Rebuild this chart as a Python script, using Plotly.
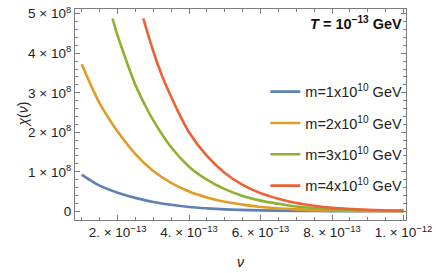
import plotly.graph_objects as go

# nu in units of 1e-13 GeV, chi in units of 1e8
nu_m1 = [1.0, 1.25, 1.5, 2.0, 2.5, 3.0, 3.5, 4.0, 4.5, 5.0, 6.0, 7.0, 8.0, 9.0, 10.0]
chi_m1 = [0.93, 0.78, 0.65, 0.47, 0.34, 0.235, 0.165, 0.11, 0.075, 0.05, 0.024, 0.011, 0.005, 0.002, 0.001]

nu_m2 = [1.0, 1.25, 1.5, 1.75, 2.0, 2.5, 3.0, 3.5, 4.0, 4.5, 5.0, 5.5, 6.0, 7.0, 8.0, 9.0, 10.0]
chi_m2 = [3.72, 3.2, 2.73, 2.36, 2.02, 1.45, 1.02, 0.72, 0.50, 0.35, 0.24, 0.17, 0.11, 0.05, 0.02, 0.01, 0.005]

nu_m3 = [1.86, 2.0, 2.25, 2.5, 2.75, 3.0, 3.5, 4.0, 4.5, 5.0, 5.5, 6.0, 6.5, 7.0, 8.0, 9.0, 10.0]
chi_m3 = [4.88, 4.45, 3.8, 3.2, 2.72, 2.3, 1.62, 1.13, 0.80, 0.56, 0.39, 0.27, 0.19, 0.12, 0.055, 0.025, 0.012]

nu_m4 = [2.72, 3.0, 3.25, 3.5, 3.75, 4.0, 4.5, 5.0, 5.5, 6.0, 6.5, 7.0, 7.5, 8.0, 9.0, 10.0]
chi_m4 = [4.88, 4.05, 3.42, 2.9, 2.42, 2.0, 1.4, 0.97, 0.67, 0.46, 0.32, 0.21, 0.14, 0.09, 0.04, 0.018]

names = ["m=1x10<sup>10</sup> GeV", "m=2x10<sup>10</sup> GeV",
         "m=3x10<sup>10</sup> GeV", "m=4x10<sup>10</sup> GeV"]
colors = ["#5E81B5", "#E19C24", "#8FB032", "#EB6235"]

x_tickvals = [2e-13, 4e-13, 6e-13, 8e-13, 1e-12]
x_ticktext = ["2. × 10<sup>−13</sup>", "4. × 10<sup>−13</sup>", "6. × 10<sup>−13</sup>",
              "8. × 10<sup>−13</sup>", "1. × 10<sup>−12</sup>"]
y_tickvals = [0, 1e8, 2e8, 3e8, 4e8, 5e8]
y_ticktext = ["0", "1 × 10<sup>8</sup>", "2 × 10<sup>8</sup>", "3 × 10<sup>8</sup>",
              "4 × 10<sup>8</sup>", "5 × 10<sup>8</sup>"]

series = [(nu_m1, chi_m1), (nu_m2, chi_m2), (nu_m3, chi_m3), (nu_m4, chi_m4)]

fig = go.Figure()
for i, (nu, chi) in enumerate(series):
    fig.add_trace(go.Scatter(
        x=[v * 1e-13 for v in nu], y=[v * 1e8 for v in chi],
        mode="lines", name=names[i], legendgroup=f"g{i}",
        line=dict(color=colors[i], width=2.6, shape="spline"),
    ))

font_family = "Liberation Sans, Arial, sans-serif"
frame = "#7c7c7c"

fig.update_layout(
    width=436, height=273,
    margin=dict(l=75, r=29, t=4, b=53),
    paper_bgcolor="white", plot_bgcolor="white",
    font=dict(family=font_family, size=13.5, color="#222222"),
    showlegend=True,
    legend=dict(x=0.575, y=0.684, xanchor="left", yanchor="top",
                bgcolor="rgba(0,0,0,0)", tracegroupgap=9.5,
                font=dict(size=14.5, family=font_family, color="#222222")),
)
fig.update_xaxes(
    range=[0.81e-13, 10.07e-13], showgrid=False, zeroline=False,
    showline=True, linecolor=frame, linewidth=1.2, mirror="allticks",
    ticks="inside", ticklen=5, tickcolor=frame, tickwidth=1,
    tickmode="array", tickvals=x_tickvals, ticktext=x_ticktext,
    ticklabeloverflow="allow",
    minor=dict(ticks="inside", ticklen=3, tickcolor=frame, dtick=0.5e-13, tick0=0),
)
fig.update_yaxes(
    range=[-0.22e8, 5.12e8], showgrid=False, zeroline=False,
    showline=True, linecolor=frame, linewidth=1.2, mirror="allticks",
    ticks="inside", ticklen=5, tickcolor=frame, tickwidth=1,
    tickmode="array", tickvals=y_tickvals, ticktext=y_ticktext,
    ticklabeloverflow="allow",
    minor=dict(ticks="inside", ticklen=3, tickcolor=frame, dtick=0.2e8, tick0=0),
)

fig.add_annotation(text="<i>χ</i>(<i>ν</i>)", xref="paper", yref="paper",
                   x=-0.19, y=0.5, textangle=-90, showarrow=False,
                   font=dict(size=14, family=font_family, color="#222222"))
fig.add_annotation(text="<i>ν</i>", xref="paper", yref="paper",
                   x=0.5, y=-0.2, yanchor="middle", showarrow=False,
                   font=dict(size=14, family=font_family, color="#222222"))
fig.add_annotation(text="<b><i>T</i> = 10<sup>−13</sup> GeV</b>", xref="paper", yref="paper",
                   x=0.993, y=0.935, xanchor="right", yanchor="middle", showarrow=False,
                   font=dict(size=14.5, family=font_family, color="#111111"))

fig.write_html("out.html", config={"displayModeBar": False},
               post_script="document.body.style.margin='0';")
